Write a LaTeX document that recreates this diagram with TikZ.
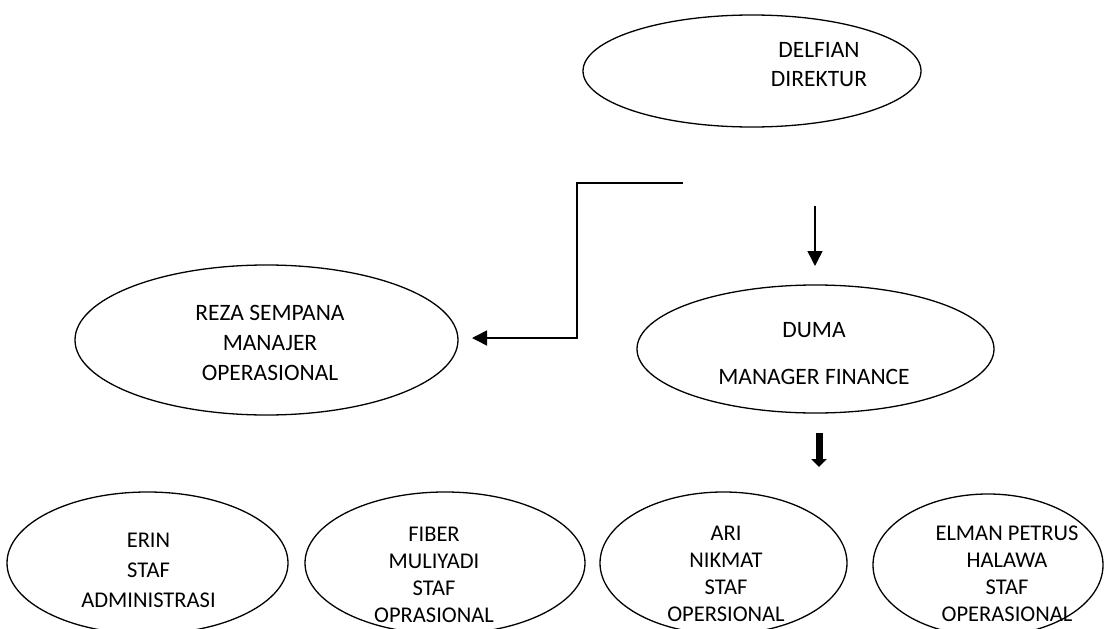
\documentclass[tikz,border=0pt]{standalone}
\usepackage{fontspec}
\setmainfont{Carlito}
\usetikzlibrary{shapes.geometric,arrows.meta}
\tikzset{
    orgnode/.style={ellipse,draw=black,line width=1.3pt,inner sep=0pt},
    topnode/.style={orgnode,minimum width=338pt,minimum height=112pt},
    mgrnode/.style={orgnode,minimum height=#1},
    staffnode/.style={orgnode,minimum height=142pt},
    nametext/.style={align=center,inner sep=0pt,font=\fontsize{23.5}{29}\selectfont},
    stafftext/.style={align=center,inner sep=0pt,font=\fontsize{22.5}{27}\selectfont},
    thinarrow/.style={-{Triangle[width=15pt,length=15pt]},line width=1.5pt},
    thickarrow/.style={-{Triangle[width=15pt,length=8pt]},line width=7pt}
}

\begin{document}
\begin{tikzpicture}[x=1pt,y=-1pt]
\useasboundingbox (0,0) rectangle (1104,629);
\clip (0,0) rectangle (1104,629);

% ellipses
\node[topnode] (DIR) at (752,71) {};
\node[mgrnode=150pt,minimum width=383pt] (OPS) at (266.5,340) {};
\node[mgrnode=128pt,minimum width=357pt] (FIN) at (815.5,349) {};
\node[staffnode,minimum width=281pt] (ERIN)  at (147.5,563) {};
\node[staffnode,minimum width=280pt] (FIBER) at (445,563)   {};
\node[staffnode,minimum width=247pt] (ARI)   at (723.5,563) {};
\node[staffnode,minimum width=230pt] (ELMAN) at (988,565)   {};

% texts
\node[nametext] (DIRtxt) at ([xshift=67pt,yshift=6.5pt]DIR.center) {DELFIAN\\DIREKTUR};
\node[nametext,font=\fontsize{23.5}{30}\selectfont] (OPStxt) at ([xshift=3.5pt,yshift=-3pt]OPS.center) {REZA SEMPANA\\MANAJER\\OPERASIONAL};
\node[nametext] (FINtxt) at ([xshift=-1.5pt,yshift=-4.5pt]FIN.center) {DUMA\\[18pt]MANAGER FINANCE};
\node[stafftext,font=\fontsize{22.5}{30}\selectfont] (ERINtxt) at ([xshift=1pt,yshift=-7pt]ERIN.center) {ERIN\\STAF\\ADMINISTRASI};
\node[stafftext] (FIBERtxt) at ([xshift=-11pt,yshift=-12pt]FIBER.center) {FIBER\\MULIYADI\\STAF\\OPRASIONAL};
\node[stafftext] (ARItxt)   at ([xshift=2.5pt,yshift=-11pt]ARI.center)  {ARI\\NIKMAT\\STAF\\OPERSIONAL};
\node[stafftext] (ELMANtxt) at ([xshift=19pt,yshift=-9pt]ELMAN.center)  {ELMAN PETRUS\\HALAWA\\STAF\\OPERASIONAL};

% connectors
\coordinate (bendstart) at (683,183);
\coordinate (bendturn)  at (577,338);
\coordinate (OPSin)     at (472,338);
\coordinate (DIRout)    at (815,206);
\coordinate (FINin)     at (815,266);
\coordinate (FINout)    at (819,433);
\coordinate (STAFin)    at (819,467);

\draw[thinarrow] (bendstart) -| (bendturn) -- (OPSin);
\draw[thinarrow] (DIRout) -- (FINin);
\draw[thickarrow] (FINout) -- (STAFin);
\end{tikzpicture}
\end{document}
